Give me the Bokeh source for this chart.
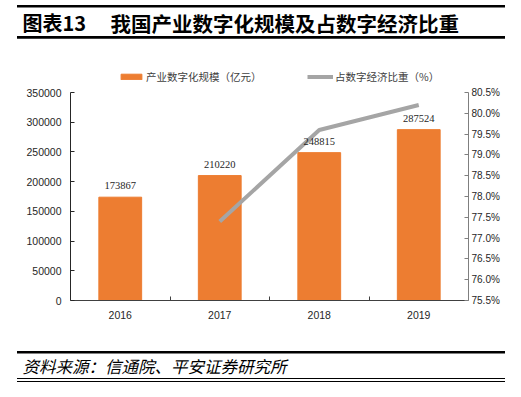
from bokeh.plotting import figure
from bokeh.layouts import column, row
from bokeh.models import (Range1d, LinearAxis, FixedTicker, PrintfTickFormatter,
                          NumeralTickFormatter, ColumnDataSource, LabelSet,
                          Legend, LegendItem, Div)
from bokeh.core.properties import value
from bokeh.embed import file_html
from bokeh.resources import INLINE

# ---- data ----
years = [2016, 2017, 2018, 2019]
scale = [173867, 210220, 248815, 287524]          # 产业数字化规模（亿元）
share = [float("nan"), 77.4, 79.6, 80.2]          # 占数字经济比重（%）
left_ticks = [0, 50000, 100000, 150000, 200000, 250000, 300000, 350000]
right_ticks = [75.5, 76.0, 76.5, 77.0, 77.5, 78.0, 78.5, 79.0, 79.5, 80.0, 80.5]
title_no = "图表13"
title_text = "我国产业数字化规模及占数字经济比重"
bar_name = "产业数字化规模（亿元）"
line_name = "占数字经济比重（%）"
source_text = "资料来源：信通院、平安证券研究所"

LAT = "Liberation Sans"
CJK = "Noto Sans CJK SC"

W = 505
HEAD_H, MAIN_H, FOOT_H = 29, 310, 24
FL, FR = 70, 468            # frame left / right (px)
FT, AXT, FB = 24, 54, 262   # frame top, axis top, frame bottom (px inside main fig)


def bare(height):
    f = figure(width=W, height=height, output_backend="svg", toolbar_location=None,
               x_range=Range1d(0, W), y_range=Range1d(0, height),
               x_axis_type=None, y_axis_type=None,
               min_border_left=0, min_border_right=0, min_border_top=0, min_border_bottom=0)
    f.outline_line_color = None
    f.background_fill_color = "white"
    f.border_fill_color = "white"
    return f


def rule(gap, thick):
    w = W - 17
    return Div(text=f'<div style="width:{w}px;height:{thick}px;background:#000000"></div>',
               width=w, height=thick, margin=(gap, 0, 0, 17),
               styles={"background-color": "#000000", "line-height": "0"})


# ---- header: title ----
head = bare(HEAD_H)
head.text(x=[22], y=[HEAD_H - 15], text=[title_no], text_font=value(CJK),
          text_font_size="20px", text_font_style="bold", text_baseline="middle",
          text_color="#000000")
head.text(x=[110], y=[HEAD_H - 15], text=[title_text], text_font=value(CJK),
          text_font_size="20.5px", text_font_style="bold", text_baseline="middle",
          text_color="#000000")

# ---- main chart ----
src = ColumnDataSource(dict(year=years, scale=scale, share=share,
                            label=[str(v) for v in scale]))

ratio = (FB - FT) / (FB - AXT)
ymax = left_ticks[-1] * ratio
pmax = right_ticks[0] + (right_ticks[-1] - right_ticks[0]) * ratio

p = figure(width=W, height=MAIN_H, output_backend="svg", toolbar_location=None,
           x_range=Range1d(years[0] - 0.5, years[-1] + 0.5),
           y_range=Range1d(left_ticks[0], ymax),
           x_axis_type=None, y_axis_type=None,
           min_border_left=FL, min_border_right=W - FR,
           min_border_top=FT, min_border_bottom=MAIN_H - FB)
p.extra_y_ranges = {"pct": Range1d(right_ticks[0], pmax)}
p.outline_line_color = None
p.background_fill_color = "white"
p.border_fill_color = "white"

xaxis = LinearAxis(ticker=FixedTicker(ticks=years,
                                      minor_ticks=[y + 0.5 for y in years[:-1]]),
                   major_tick_in=0, major_tick_out=0,
                   minor_tick_in=4, minor_tick_out=0,
                   axis_line_color="#404040", minor_tick_line_color="#404040",
                   major_label_text_font=LAT, major_label_text_font_size="10.5px",
                   major_label_text_color="#262626", major_label_standoff=10)
p.add_layout(xaxis, "below")

laxis = LinearAxis(ticker=FixedTicker(ticks=left_ticks),
                   formatter=NumeralTickFormatter(format="0"),
                   bounds=(left_ticks[0], left_ticks[-1]),
                   major_tick_in=4, major_tick_out=0,
                   minor_tick_line_color=None,
                   axis_line_color="#262626", major_tick_line_color="#262626",
                   major_label_text_font=LAT, major_label_text_font_size="10.5px",
                   major_label_text_color="#262626", major_label_standoff=9)
p.add_layout(laxis, "left")

raxis = LinearAxis(y_range_name="pct", ticker=FixedTicker(ticks=right_ticks),
                   formatter=PrintfTickFormatter(format="%.1f%%"),
                   bounds=(right_ticks[0], right_ticks[-1]),
                   major_tick_in=4, major_tick_out=0,
                   minor_tick_line_color=None,
                   axis_line_color="#7f7f7f", major_tick_line_color="#7f7f7f",
                   major_label_text_font=LAT, major_label_text_font_size="10px",
                   major_label_text_color="#262626", major_label_standoff=3)
p.add_layout(raxis, "right")

bars = p.vbar(x="year", top="scale", width=0.43, source=src,
              fill_color="#ED7D31", line_color="#ED7D31")
line = p.line(x="year", y="share", source=src, y_range_name="pct",
              line_color="#A5A5A5", line_width=4)

labels = LabelSet(x="year", y="scale", text="label", source=src,
                  text_align="center", text_baseline="bottom", y_offset=8,
                  text_font=LAT, text_font_size="10.5px", text_color="#262626")
p.add_layout(labels)


def make_legend(item, x):
    return Legend(items=[item], location=(x, FB - 46), orientation="horizontal",
                  glyph_width=26, glyph_height=7, label_height=7, label_width=10,
                  label_standoff=2, padding=0, margin=0, spacing=0,
                  background_fill_alpha=0, border_line_alpha=0,
                  label_text_font=CJK, label_text_font_size="10.5px",
                  label_text_color="#404040")


p.add_layout(make_legend(LegendItem(label=bar_name, renderers=[bars]), 48), "center")
p.add_layout(make_legend(LegendItem(label=line_name, renderers=[line]), 237), "center")

# ---- footer: source ----
foot = bare(FOOT_H)
foot.text(x=[22], y=[FOOT_H - 12], text=[source_text], text_font=value(CJK),
          text_font_size="16.5px", text_font_style="italic", text_baseline="middle",
          text_color="#000000")

layout = column(rule(5, 2), row(head), rule(0, 2), p, rule(3, 2), row(foot), rule(1, 1),
                spacing=0)
open("out.html", "w").write(file_html(layout, INLINE))
